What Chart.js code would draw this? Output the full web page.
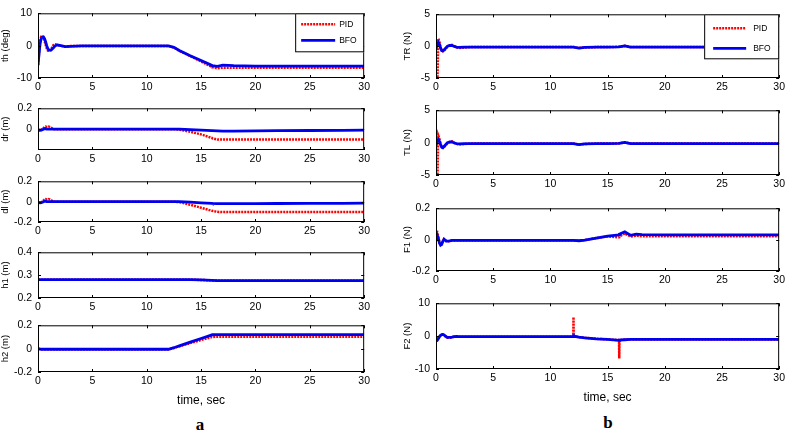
<!DOCTYPE html>
<html>
<head>
<meta charset="utf-8">
<script src="https://cdn.jsdelivr.net/npm/chart.js@4.4.0/dist/chart.umd.min.js"></script>
<style>
  body { margin: 0; background: #fff; }
  #page { position: relative; width: 788px; height: 437px; overflow: hidden; }
  .panel { position: absolute; }
  .tag { position: absolute; font: bold 17px "Liberation Serif", "Times New Roman", serif; transform: translate(-50%, -50%); }
</style>
</head>
<body>
<div id="page">
  <div class="tag" style="left:200px;top:425px">a</div>
  <div class="tag" style="left:608px;top:423px">b</div>
</div>
<script>
// time grid shared by every subplot (sec)
const time = [0, 0.1, 0.2, 0.3, 0.4, 0.5, 0.6, 0.7, 0.8, 0.9,
  1, 1.2, 1.4, 1.6, 1.8, 2, 2.5, 3, 4, 6,
  8, 10, 12, 12.02, 12.04, 12.5, 13, 14, 15, 16,
  16.02, 16.04, 16.5, 17, 17.5, 18, 20, 22, 25, 28,
  30];

// (a) column
const thPid = [-6, -2, 1.5, 2.8, 3, 2.6, 1.5, 0.3, -0.8, -1.5,
  -1.8, -1.2, 0.1, 0.4, 0.2, 0, -0.3, -0.1, -0.1, -0.1,
  -0.1, -0.1, -0.1, -0.1, -0.1, -0.6, -1.6, -3.2, -4.9, -6.6,
  -6.7, -6.7, -7, -6.8, -6.8, -6.8, -6.8, -6.8, -6.8, -6.8,
  -6.8];
const thBfo = [-6, -2.5, 0.8, 2.2, 2.7, 2.7, 2.2, 1.2, 0, -0.9,
  -1.4, -1.4, -0.7, 0, 0.2, 0.1, -0.3, -0.2, -0.1, -0.1,
  -0.1, -0.1, -0.1, -0.1, -0.1, -0.5, -1.5, -3.1, -4.6, -6.1,
  -6.2, -6.2, -6.4, -6, -6.1, -6.2, -6.3, -6.3, -6.3, -6.3,
  -6.3];
const drPid = [0, -0.01, -0.01, -0.005, 0, 0.01, 0.02, 0.025, 0.02, 0.02,
  0.025, 0.015, 0, 0, 0, 0, 0, 0, 0, 0,
  0, 0, 0, 0, 0, 0, -0.005, -0.025, -0.05, -0.085,
  -0.086, -0.087, -0.1, -0.1, -0.1, -0.1, -0.1, -0.1, -0.1, -0.1,
  -0.1];
const drBfo = [0, -0.01, -0.012, -0.01, -0.005, 0, 0.005, 0.005, 0, 0,
  0, 0, 0, 0, 0, 0, 0, 0, 0, 0,
  0, 0, 0, 0, 0, 0, 0, -0.005, -0.01, -0.015,
  -0.015, -0.015, -0.017, -0.018, -0.018, -0.018, -0.017, -0.015, -0.013, -0.012,
  -0.01];
const dlPid = [0, -0.01, -0.01, -0.005, 0, 0.01, 0.02, 0.025, 0.02, 0.02,
  0.025, 0.015, 0, 0, 0, 0, 0, 0, 0, 0,
  0, 0, 0, 0, 0, 0, -0.005, -0.03, -0.06, -0.09,
  -0.09, -0.091, -0.1, -0.102, -0.102, -0.102, -0.102, -0.102, -0.102, -0.102,
  -0.102];
const dlBfo = [0, -0.01, -0.012, -0.01, -0.005, 0, 0.005, 0.005, 0, 0,
  0, 0, 0, 0, 0, 0, 0, 0, 0, 0,
  0, 0, 0, 0, 0, 0, 0, -0.005, -0.012, -0.017,
  -0.017, -0.018, -0.02, -0.02, -0.02, -0.02, -0.019, -0.018, -0.017, -0.016,
  -0.015];
const h1Pid = [0.28, 0.28, 0.28, 0.28, 0.28, 0.28, 0.28, 0.28, 0.28, 0.28,
  0.28, 0.28, 0.28, 0.28, 0.28, 0.28, 0.28, 0.28, 0.28, 0.28,
  0.28, 0.28, 0.28, 0.28, 0.28, 0.28, 0.28, 0.28, 0.279, 0.277,
  0.277, 0.277, 0.276, 0.276, 0.276, 0.276, 0.276, 0.276, 0.276, 0.276,
  0.276];
const h1Bfo = [0.28, 0.28, 0.28, 0.28, 0.28, 0.28, 0.28, 0.28, 0.28, 0.28,
  0.28, 0.28, 0.28, 0.28, 0.28, 0.28, 0.28, 0.28, 0.28, 0.28,
  0.28, 0.28, 0.28, 0.28, 0.28, 0.28, 0.28, 0.28, 0.279, 0.277,
  0.277, 0.277, 0.276, 0.276, 0.276, 0.276, 0.276, 0.276, 0.276, 0.276,
  0.276];
const h2Pid = [0, -0.002, -0.004, -0.005, -0.005, -0.005, -0.005, -0.005, -0.005, -0.005,
  -0.005, -0.005, -0.005, -0.005, -0.005, -0.005, -0.005, -0.005, -0.005, -0.005,
  -0.005, -0.005, -0.005, -0.005, -0.005, 0.006, 0.02, 0.047, 0.074, 0.1,
  0.1, 0.1, 0.102, 0.102, 0.102, 0.102, 0.102, 0.102, 0.102, 0.102,
  0.102];
const h2Bfo = [0, -0.002, -0.004, -0.005, -0.005, -0.005, -0.005, -0.005, -0.005, -0.005,
  -0.005, -0.005, -0.005, -0.005, -0.005, -0.005, -0.005, -0.005, -0.005, -0.005,
  -0.005, -0.005, -0.005, -0.005, -0.005, 0.008, 0.024, 0.056, 0.087, 0.118,
  0.119, 0.119, 0.12, 0.12, 0.12, 0.12, 0.12, 0.12, 0.12, 0.12,
  0.12];

// (b) column
const trPid = [-8, -8, 1.2, 0.7, -0.2, -0.7, -0.8, -0.7, -0.5, -0.3,
  -0.1, 0.1, 0.2, 0, -0.2, -0.3, -0.2, -0.15, -0.15, -0.15,
  -0.15, -0.15, -0.15, -0.15, -0.15, -0.3, -0.2, -0.15, -0.15, -0.1,
  -0.1, -0.1, 0.05, -0.15, -0.15, -0.15, -0.15, -0.15, -0.15, -0.15,
  -0.15];
const trBfo = [-0.5, 0.3, 0.6, 0.3, -0.3, -0.7, -0.75, -0.6, -0.4, -0.2,
  0, 0.1, 0.1, -0.05, -0.15, -0.2, -0.15, -0.15, -0.15, -0.15,
  -0.15, -0.15, -0.15, -0.15, -0.15, -0.3, -0.2, -0.15, -0.15, -0.1,
  -0.1, -0.1, 0.05, -0.15, -0.15, -0.15, -0.15, -0.15, -0.15, -0.15,
  -0.15];
const tlPid = [-8, -8, 1.1, 0.6, -0.2, -0.7, -0.8, -0.7, -0.5, -0.3,
  -0.1, 0.1, 0.2, 0, -0.2, -0.3, -0.2, -0.15, -0.15, -0.15,
  -0.15, -0.15, -0.15, -0.15, -0.15, -0.3, -0.2, -0.15, -0.15, -0.1,
  -0.1, -0.1, 0.05, -0.15, -0.15, -0.15, -0.15, -0.15, -0.15, -0.15,
  -0.15];
const tlBfo = [-0.5, 0.3, 0.5, 0.2, -0.3, -0.7, -0.8, -0.6, -0.4, -0.2,
  0, 0.1, 0.1, -0.05, -0.15, -0.2, -0.15, -0.15, -0.15, -0.15,
  -0.15, -0.15, -0.15, -0.15, -0.15, -0.3, -0.2, -0.15, -0.15, -0.1,
  -0.1, -0.1, 0.05, -0.15, -0.15, -0.15, -0.15, -0.15, -0.15, -0.15,
  -0.15];
const f1Pid = [0.05, 0.05, 0.02, -0.02, -0.035, -0.03, -0.01, 0.005, 0, -0.01,
  -0.012, -0.008, -0.005, -0.005, -0.005, -0.005, -0.005, -0.005, -0.005, -0.005,
  -0.005, -0.005, -0.005, -0.005, -0.005, -0.007, -0.003, 0.01, 0.02, 0.015,
  0.015, 0.02, 0.04, 0.02, 0.025, 0.022, 0.022, 0.022, 0.022, 0.022,
  0.022];
const f1Bfo = [0, 0.03, 0.01, -0.02, -0.035, -0.03, -0.01, 0.003, -0.002, -0.01,
  -0.01, -0.008, -0.005, -0.005, -0.005, -0.005, -0.005, -0.005, -0.005, -0.005,
  -0.005, -0.005, -0.005, -0.005, -0.005, -0.007, -0.003, 0.01, 0.022, 0.03,
  0.032, 0.035, 0.05, 0.028, 0.035, 0.032, 0.03, 0.03, 0.03, 0.03,
  0.03];
const f2Pid = [-1.5, -1.2, -0.6, 0, 0.3, 0.5, 0.5, 0.3, 0, -0.3,
  -0.5, -0.5, -0.3, -0.1, -0.1, -0.2, -0.2, -0.2, -0.2, -0.2,
  -0.2, -0.2, -0.2, 5.8, -0.1, -0.3, -0.5, -0.8, -1, -1.2,
  -6.8, -1.2, -1, -1, -1, -1, -1, -1, -1, -1,
  -1];
const f2Bfo = [-1.5, -1.3, -0.8, -0.2, 0.2, 0.5, 0.55, 0.4, 0.1, -0.2,
  -0.4, -0.4, -0.3, -0.15, -0.1, -0.15, -0.15, -0.15, -0.15, -0.15,
  -0.15, -0.15, -0.1, 0.6, 0, -0.3, -0.5, -0.8, -1, -1.3,
  -1.3, -1.2, -1.1, -1, -1, -1, -1, -1, -1, -1,
  -1];

// tick labels
const xTicks = [0, 5, 10, 15, 20, 25, 30];
const ticks10 = [-10, 0, 10];
const ticks5 = [-5, 0, 5];
const ticks02 = [-0.2, 0, 0.2];
const ticksDr = [0, 0.2];
const ticksH1 = [0.2, 0.3, 0.4];

const RED = '#ff0000';
const BLUE = '#0000f0';

Chart.defaults.font.family = '"Liberation Sans", Arial, sans-serif';
Chart.defaults.color = '#000';

// box round the axes with inward ticks, like the original figure
const boxTicks = {
  id: 'boxTicks',
  afterDatasetsDraw(chart) {
    const { ctx, chartArea: a, scales: { x, y } } = chart;
    ctx.save();
    ctx.strokeStyle = '#000';
    ctx.lineWidth = 1;
    ctx.strokeRect(a.left + 0.5, a.top + 0.5, a.width - 1, a.height - 1);
    ctx.beginPath();
    x.ticks.forEach(t => {
      const px = Math.round(x.getPixelForValue(t.value)) + 0.5;
      ctx.moveTo(px, a.top); ctx.lineTo(px, a.top + 3);
      ctx.moveTo(px, a.bottom); ctx.lineTo(px, a.bottom - 3);
    });
    y.ticks.forEach(t => {
      const py = Math.round(y.getPixelForValue(t.value)) + 0.5;
      ctx.moveTo(a.left, py); ctx.lineTo(a.left + 3, py);
      ctx.moveTo(a.right, py); ctx.lineTo(a.right - 3, py);
    });
    ctx.stroke();
    ctx.restore();
  }
};

const legendBox = {
  id: 'legendBox',
  afterDraw(chart, args, opts) {
    if (!opts.show) return;
    const { ctx, chartArea: a } = chart;
    const x0 = a.right - opts.w;
    const y0 = a.top;
    ctx.save();
    ctx.fillStyle = '#fff';
    ctx.fillRect(x0, y0, opts.w, opts.h);
    ctx.strokeStyle = '#000';
    ctx.lineWidth = 1;
    ctx.strokeRect(x0 + 0.5, y0 + 0.5, opts.w - 1, opts.h - 1);
    ctx.font = '8.5px "Liberation Sans", Arial, sans-serif';
    ctx.textBaseline = 'middle';
    chart.data.datasets.forEach((ds, i) => {
      const yy = y0 + opts.rows[i];
      ctx.strokeStyle = ds.borderColor;
      ctx.lineWidth = ds.borderWidth;
      ctx.setLineDash(ds.borderDash || []);
      ctx.beginPath();
      ctx.moveTo(x0 + opts.lineFrom, yy);
      ctx.lineTo(x0 + opts.lineTo, yy);
      ctx.stroke();
      ctx.setLineDash([]);
      ctx.fillStyle = '#000';
      ctx.fillText(ds.label, x0 + opts.textAt, yy);
    });
    ctx.restore();
  }
};

const columns = {
  a: { left: 38, right: 366, axisW: 38, titlePad: 0,
       legend: { w: 69, h: 39, rows: [11, 27], lineFrom: 6, lineTo: 40, textAt: 44 } },
  b: { left: 436, right: 781, axisW: 36, titlePad: 2,
       legend: { w: 75, h: 45, rows: [14, 34], lineFrom: 9, lineTo: 42, textAt: 49 } }
};

const panels = [
  { col: 'a', top: 8, bottom: 78, title: 'th (deg)', min: -10, max: 10, yTicks: ticks10, pid: thPid, bfo: thBfo, legend: true },
  { col: 'a', top: 103, bottom: 150, title: 'dr (m)', min: -0.2, max: 0.2, yTicks: ticksDr, pid: drPid, bfo: drBfo },
  { col: 'a', top: 176, bottom: 222, title: 'dl (m)', min: -0.2, max: 0.2, yTicks: ticks02, pid: dlPid, bfo: dlBfo },
  { col: 'a', top: 247, bottom: 298, title: 'h1 (m)', min: 0.2, max: 0.4, yTicks: ticksH1, pid: h1Pid, bfo: h1Bfo },
  { col: 'a', top: 320, bottom: 372, title: 'h2 (m)', min: -0.2, max: 0.2, yTicks: ticks02, pid: h2Pid, bfo: h2Bfo, last: true },
  { col: 'b', top: 9, bottom: 78, title: 'TR (N)', min: -5, max: 5, yTicks: ticks5, pid: trPid, bfo: trBfo, legend: true },
  { col: 'b', top: 105, bottom: 175, title: 'TL (N)', min: -5, max: 5, yTicks: ticks5, pid: tlPid, bfo: tlBfo },
  { col: 'b', top: 203, bottom: 271, title: 'F1 (N)', min: -0.2, max: 0.2, yTicks: ticks02, pid: f1Pid, bfo: f1Bfo },
  { col: 'b', top: 298, bottom: 369, title: 'F2 (N)', min: -10, max: 10, yTicks: ticks10, pid: f2Pid, bfo: f2Bfo, last: true }
];

const padTop = 7;
const padRight = 7;
const page = document.getElementById('page');

panels.forEach(p => {
  const col = columns[p.col];
  const xH = p.last ? 36 : 17;
  const box = document.createElement('div');
  box.className = 'panel';
  box.style.left = (col.left - col.axisW) + 'px';
  box.style.top = (p.top - padTop) + 'px';
  box.style.width = (col.right - col.left + col.axisW + padRight) + 'px';
  box.style.height = (p.bottom - p.top + padTop + xH) + 'px';
  const canvas = document.createElement('canvas');
  box.appendChild(canvas);
  page.appendChild(box);

  new Chart(canvas, {
    type: 'line',
    data: {
      datasets: [
        {
          label: 'PID',
          data: time.map((t, i) => ({ x: t, y: p.pid[i] })),
          borderColor: RED,
          borderWidth: 2.5,
          borderDash: [2, 1],
          pointRadius: 0,
          clip: 0,
          order: 1
        },
        {
          label: 'BFO',
          data: time.map((t, i) => ({ x: t, y: p.bfo[i] })),
          borderColor: BLUE,
          borderWidth: 2.8,
          pointRadius: 0,
          clip: 0,
          order: 0
        }
      ]
    },
    options: {
      responsive: true,
      maintainAspectRatio: false,
      animation: false,
      layout: { padding: { top: padTop, right: padRight, left: 0, bottom: 0 } },
      plugins: {
        legend: { display: false },
        tooltip: { enabled: false },
        legendBox: Object.assign({ show: !!p.legend }, col.legend)
      },
      scales: {
        x: {
          type: 'linear',
          min: 0,
          max: 30,
          afterBuildTicks: s => { s.ticks = xTicks.map(v => ({ value: v })); },
          afterFit: s => { s.height = xH; },
          ticks: { padding: 3, font: { size: 10.5 }, maxRotation: 0, autoSkip: false },
          grid: { display: false, drawTicks: false },
          border: { display: false },
          title: { display: !!p.last, text: 'time, sec', font: { size: 12 }, padding: 0 }
        },
        y: {
          min: p.min,
          max: p.max,
          afterBuildTicks: s => { s.ticks = p.yTicks.map(v => ({ value: v })); },
          afterFit: s => { s.width = col.axisW; },
          ticks: { padding: 6, font: { size: 10.5 }, callback: v => String(v) },
          grid: { display: false, drawTicks: false },
          border: { display: false },
          title: { display: true, text: p.title, font: { size: 9.5 }, padding: { top: col.titlePad, bottom: 0 } }
        }
      }
    },
    plugins: [boxTicks, legendBox]
  });
});
</script>
</body>
</html>
